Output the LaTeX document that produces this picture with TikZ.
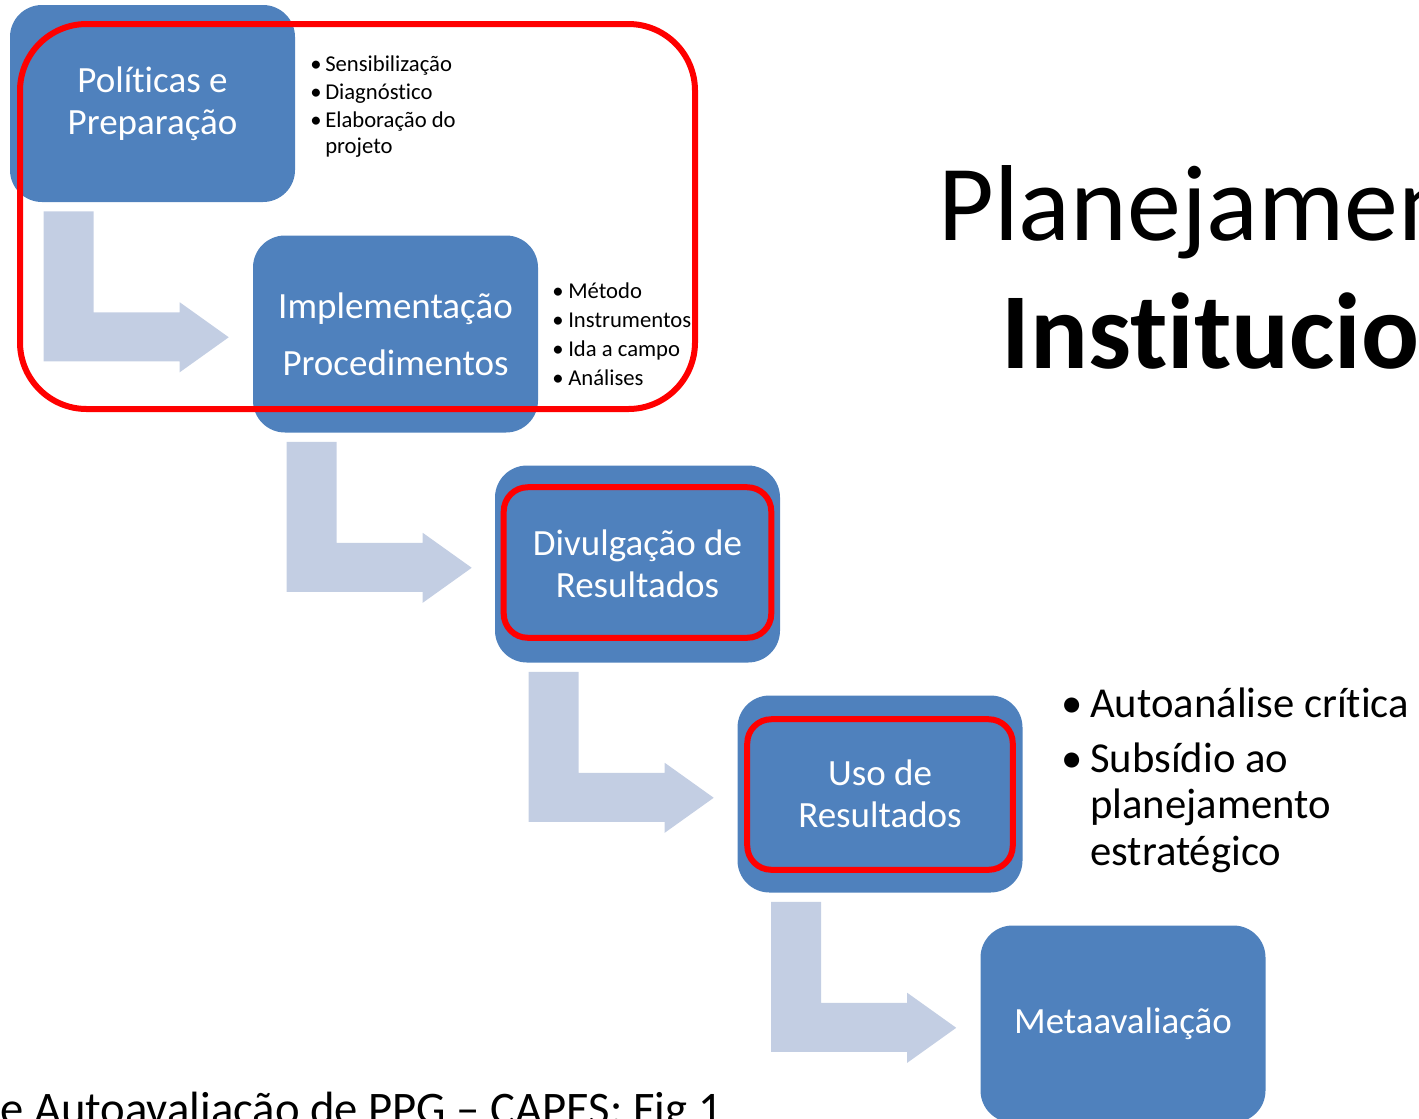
\documentclass[tikz,border=0pt]{standalone}
\usepackage{fontspec}
\setmainfont{Carlito}[Ligatures=NoCommon]
\usetikzlibrary{calc}

\definecolor{boxblue}{RGB}{79,129,189}
\definecolor{arrowblue}{RGB}{195,206,227}
\definecolor{markred}{RGB}{255,0,0}

\newcommand{\bul}[2]{\makebox[#1][l]{•}#2}

\tikzset{
	stage/.style={fill=boxblue, text=white, rounded corners=24pt,
		minimum width=213.75pt, minimum height=147.75pt, inner sep=0pt,
		align=center, font=\fontsize{27.75pt}{31.5pt}\selectfont},
	flow/.style={fill=arrowblue},
	hilite/.style={draw=markred, line width=4.5pt},
	smallitem/.style={anchor=base west, inner sep=0pt, font=\fontsize{17pt}{20pt}\selectfont},
	bigitem/.style={anchor=base west, inner sep=0pt, font=\fontsize{32pt}{36pt}\selectfont},
	title/.style={anchor=base west, inner sep=0pt, font=\fontsize{81pt}{97pt}\selectfont}
}

\begin{document}
\begin{tikzpicture}[x=0.75pt, y=-0.75pt]
	\clip (0,0) rectangle (1419,1118);
	
	% stages
	\node [stage] (pol) at (152.5,103.5) {Políticas e\\Preparação};
	\node [stage] (imp) at (395.5,334) {Implementação\\[11pt]Procedimentos};
	\node [stage] (div) at (637.5,564) {Divulgação de\\Resultados};
	\node [stage] (uso) at (880,794) {Uso de\\Resultados};
	\node [stage] (meta) at (1123,1024) {Metaavaliação};
	
	% bent arrows below each stage
	\foreach \a in {pol,imp,div,uso}
		\fill [flow] (\a.south west) ++(34,9) -- ++(50,0) -- ++(0,101) -- ++(86,0)
			-- ++(0,-10) -- ++(49,35) -- ++(-49,35) -- ++(0,-11) -- ++(-136,0) -- cycle;
	
	% red marks
	\draw [hilite, rounded corners=50pt] (20,24) rectangle (695,409);
	\draw [hilite, rounded corners=18pt] ($(div.north west)+(9,22)$) rectangle ($(div.south east)+(-9,-25)$);
	\draw [hilite, rounded corners=18pt] ($(uso.north west)+(10,24)$) rectangle ($(uso.south east)+(-10,-23)$);
	
	% bullet lists
	\foreach \t/\y [count=\i] in {Sensibilização/71, Diagnóstico/99, Elaboração do/127}
		\node [smallitem] (pa\i) at (310,\y) {\bul{11.25pt}{\t}};
	\node [smallitem] (pa4) at (325,153) {projeto};
	
	\foreach \t/\y [count=\i] in {Método/298, Instrumentos/327, Ida a campo/356, Análises/385}
		\node [smallitem] (pb\i) at (552,\y) {\bul{12pt}{\t}};
	
	\node [bigitem] (pc1) at (1061,717) {\bul{21.75pt}{Autoanálise crítica}};
	\node [bigitem] (pc2) at (1061,772) {\bul{21.75pt}{Subsídio ao}};
	\node [bigitem] (pc3) at (1090,818) {planejamento};
	\node [bigitem] (pc4) at (1090,865) {estratégico};
	
	% title and source
	\node [title] (tit1) at (938,240) {Planejamento};
	\node [title, font=\fontsize{81pt}{97pt}\selectfont\bfseries] (tit2) at (1001,368) {Institucional};
	\node [anchor=base west, inner sep=0pt, font=\fontsize{35pt}{42pt}\selectfont] (src) at (0,1124) {e Autoavaliação de PPG – CAPES: Fig 1};
\end{tikzpicture}
\end{document}
